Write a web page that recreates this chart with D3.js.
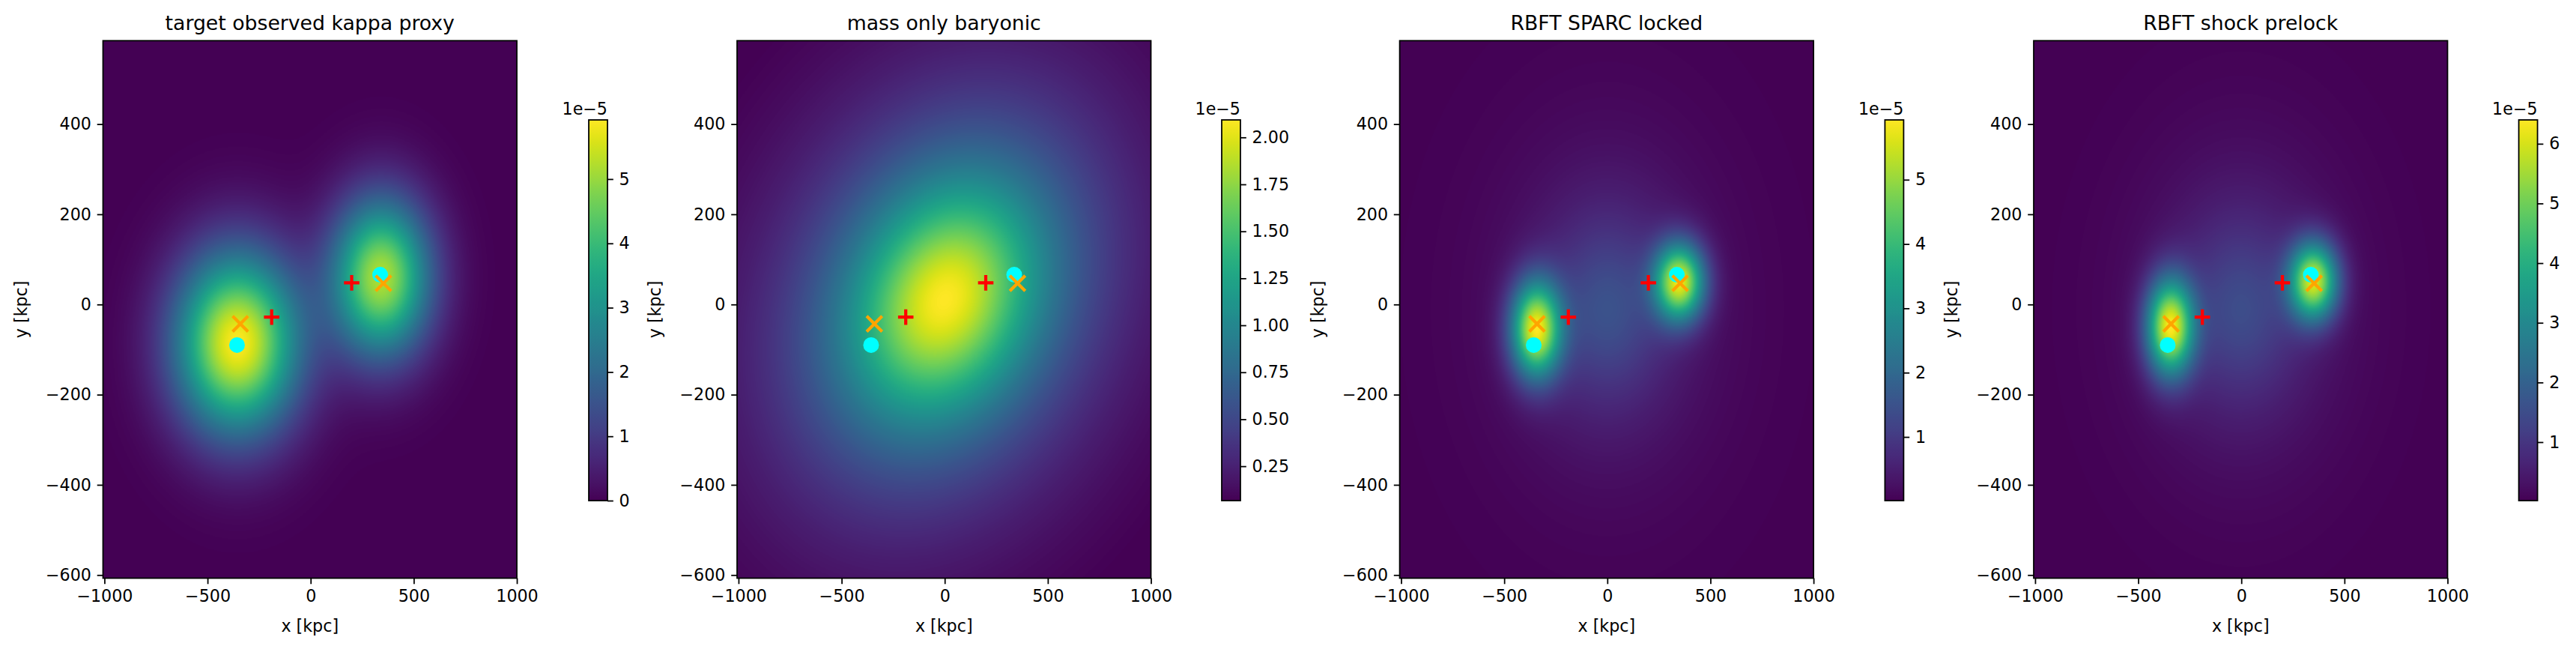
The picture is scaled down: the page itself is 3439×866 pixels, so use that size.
<!DOCTYPE html>
<html>
<head>
<meta charset="utf-8">
<script src="https://cdn.jsdelivr.net/npm/d3@7"></script>
<style>
  body { margin: 0; background: #fff; }
  svg { display: block; }
  text { font-family: "DejaVu Sans", sans-serif; fill: #000; }
</style>
</head>
<body>
<svg id="fig" width="3439" height="866"></svg>
<script>
// ---- data ----
const titles = ["target observed kappa proxy", "mass only baryonic", "RBFT SPARC locked", "RBFT shock prelock"];
const xTicks = [-1000, -500, 0, 500, 1000];
const yTicks = [-600, -400, -200, 0, 200, 400];
const xExtent = [-1007, 1000];
const yExtent = [-607, 585];

// colour limits (units of 1e-5) and colorbar ticks
const cbarDomains = [[0, 5.92], [0.067, 2.093], [0.01, 5.93], [0.02, 6.40]];
const cbarTicks = [
  [0, 1, 2, 3, 4, 5],
  [0.25, 0.5, 0.75, 1.0, 1.25, 1.5, 1.75, 2.0],
  [1, 2, 3, 4, 5],
  [1, 2, 3, 4, 5, 6]
];
const cbarFormats = ["d", ".2f", "d", "d"];

// map components: [cx, cy, sx, sy, rotation deg, amplitude, profile power (0 = gaussian)]
const targetBlobs = [
  [-355, -85, 210, 140, 0, 5.9, 0],
  [342, 60, 168, 122, 0, 5.2, 0]
];
const baryonBlobs = [
  [0, 10, 720, 390, 10, 2.09, 2]
];
const sparcBlobs = [
  [0, -10, 420, 300, 0, 1.5, 2],
  [-345, -55, 85, 75, 0, 5.4, 0],
  [350, 50, 85, 60, 0, 5.3, 0]
];
const shockBlobs = [
  [0, -10, 420, 300, 0, 1.5, 2],
  [-345, -50, 80, 75, 0, 5.88, 0],
  [350, 52, 82, 60, 0, 5.6, 0]
];
const panelBlobs = [targetBlobs, baryonBlobs, sparcBlobs, shockBlobs];

// markers (same in every panel)
const circleX = [-357, 337], circleY = [-90, 66];   // cyan dots
const crossX = [-341, 353], crossY = [-43, 47];     // orange x
const plusX = [-189, 199], plusY = [-28, 48];       // red +

// ---- layout ----
const axLeft = [137.5, 984, 1868.6, 2715];
const axTop = 54.3, axW = 552.5, axH = 717.2;
const cbLeft = [786, 1631, 2516.4, 3362.6];
const cbTop = 160, cbW = 25, cbH = 508;
const lw = 1.78, tickLen = 7.8, tickPad = 7.8;
const fs = 22.2, titleFs = 26.7;

const svg = d3.select("#fig");

function fieldValue(blobs, x, y) {
  let v = 0;
  for (const [cx, cy, sx, sy, rot, amp, p] of blobs) {
    const t = rot * Math.PI / 180;
    const dx = x - cx, dy = y - cy;
    const u = (dx * Math.cos(t) + dy * Math.sin(t)) / sx;
    const w = (-dx * Math.sin(t) + dy * Math.cos(t)) / sy;
    const r2 = u * u + w * w;
    v += p === 0 ? amp * Math.exp(-0.5 * r2) : amp * Math.pow(1 + r2, -p);
  }
  return v;
}

panelBlobs.forEach((blobs, i) => {
  const x = d3.scaleLinear().domain(xExtent).range([0, axW]);
  const y = d3.scaleLinear().domain(yExtent).range([axH, 0]);
  const color = d3.scaleSequential(d3.interpolateViridis).domain(cbarDomains[i]).clamp(true);

  const g = svg.append("g").attr("transform", `translate(${axLeft[i]},${axTop})`);

  // heat map rendered to a canvas, then placed as an image
  const W = Math.round(axW), H = Math.round(axH);
  const canvas = document.createElement("canvas");
  canvas.width = W; canvas.height = H;
  const ctx = canvas.getContext("2d");
  const img = ctx.createImageData(W, H);
  for (let r = 0; r < H; r++) {
    const yv = y.invert((r + 0.5) * axH / H);
    for (let c = 0; c < W; c++) {
      const xv = x.invert((c + 0.5) * axW / W);
      const col = d3.rgb(color(fieldValue(blobs, xv, yv)));
      const k = (r * W + c) * 4;
      img.data[k] = col.r; img.data[k + 1] = col.g; img.data[k + 2] = col.b; img.data[k + 3] = 255;
    }
  }
  ctx.putImageData(img, 0, 0);
  g.append("image")
    .attr("href", canvas.toDataURL())
    .attr("width", axW).attr("height", axH)
    .attr("preserveAspectRatio", "none");

  // markers
  const marks = g.append("g");
  circleX.forEach((cx, j) => {
    marks.append("circle").attr("cx", x(cx)).attr("cy", y(circleY[j])).attr("r", 10.5).attr("fill", "#00ffff");
  });
  crossX.forEach((cx, j) => {
    const px = x(cx), py = y(crossY[j]), s = 10.3;
    marks.append("path")
      .attr("d", `M${px - s},${py - s}L${px + s},${py + s}M${px - s},${py + s}L${px + s},${py - s}`)
      .attr("stroke", "#ffa500").attr("stroke-width", 4.2).attr("fill", "none");
  });
  plusX.forEach((cx, j) => {
    const px = x(cx), py = y(plusY[j]), s = 10.3;
    marks.append("path")
      .attr("d", `M${px - s},${py}L${px + s},${py}M${px},${py - s}L${px},${py + s}`)
      .attr("stroke", "#ff0000").attr("stroke-width", 4.2).attr("fill", "none");
  });

  // axes
  const xAxis = g.append("g").attr("transform", `translate(0,${axH})`)
    .call(d3.axisBottom(x).tickValues(xTicks).tickSize(tickLen).tickPadding(tickPad).tickFormat(d3.format("d")));
  const yAxis = g.append("g")
    .call(d3.axisLeft(y).tickValues(yTicks).tickSize(tickLen).tickPadding(tickPad).tickFormat(d3.format("d")));
  [xAxis, yAxis].forEach(a => {
    a.select(".domain").remove();
    a.selectAll("line").attr("stroke", "#000").attr("stroke-width", lw);
    a.selectAll("text").attr("font-size", fs).attr("font-family", "DejaVu Sans").attr("fill", "#000");
  });

  g.append("rect").attr("width", axW).attr("height", axH)
    .attr("fill", "none").attr("stroke", "#000").attr("stroke-width", lw);

  g.append("text").attr("x", axW / 2).attr("y", 40 - axTop)
    .attr("text-anchor", "middle").attr("font-size", titleFs).text(titles[i]);
  g.append("text").attr("x", axW / 2).attr("y", 843 - axTop)
    .attr("text-anchor", "middle").attr("font-size", fs).text("x [kpc]");
  g.append("text").attr("transform", `translate(-102,${axH / 2}) rotate(-90)`)
    .attr("text-anchor", "middle").attr("font-size", fs).text("y [kpc]");

  // colorbar
  const cb = svg.append("g").attr("transform", `translate(${cbLeft[i]},${cbTop})`);
  const gradId = "grad" + i;
  const grad = svg.append("defs").append("linearGradient").attr("id", gradId)
    .attr("x1", 0).attr("y1", 1).attr("x2", 0).attr("y2", 0);
  d3.range(0, 1.0001, 0.02).forEach(t => {
    grad.append("stop").attr("offset", t).attr("stop-color", d3.interpolateViridis(t));
  });
  cb.append("rect").attr("width", cbW).attr("height", cbH).attr("fill", `url(#${gradId})`);
  const cs = d3.scaleLinear().domain(cbarDomains[i]).range([cbH, 0]);
  const cAxis = cb.append("g").attr("transform", `translate(${cbW},0)`)
    .call(d3.axisRight(cs).tickValues(cbarTicks[i]).tickSize(tickLen).tickPadding(tickPad).tickFormat(d3.format(cbarFormats[i])));
  cAxis.select(".domain").remove();
  cAxis.selectAll("line").attr("stroke", "#000").attr("stroke-width", lw);
  cAxis.selectAll("text").attr("font-size", fs).attr("font-family", "DejaVu Sans").attr("fill", "#000");
  cb.append("rect").attr("width", cbW).attr("height", cbH)
    .attr("fill", "none").attr("stroke", "#000").attr("stroke-width", lw);
  cb.append("text").attr("x", cbW).attr("y", -7.3)
    .attr("text-anchor", "end").attr("font-size", fs).text("1e\u22125");
});
</script>
</body>
</html>
